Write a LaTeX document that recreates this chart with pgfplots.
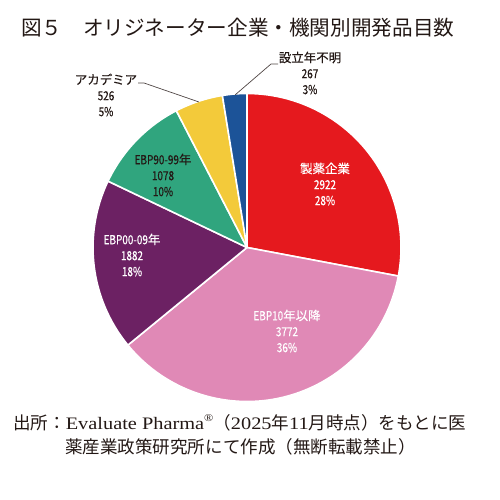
\documentclass[border=0pt]{standalone}
\usepackage{pgfplots}
\pgfplotsset{compat=1.18}
\usepackage{pgfplotstable}
\usepackage{fontspec}
\setmainfont{Liberation Sans}
\newfontfamily\jp{Noto Sans CJK JP}
\newfontfamily\jpl[FakeBold=0.4]{Noto Sans CJK JP}
\newfontfamily\jpn[FakeStretch=0.8,FakeBold=0.4]{Noto Sans CJK JP}
\newfontfamily\ser[FakeStretch=1.16]{Liberation Serif}
\definecolor{pc0}{HTML}{E5191E}
\definecolor{pc1}{HTML}{E089B6}
\definecolor{pc2}{HTML}{6C2163}
\definecolor{pc3}{HTML}{30A57E}
\definecolor{pc4}{HTML}{F3CA3A}
\definecolor{pc5}{HTML}{1C5398}
\definecolor{txt}{HTML}{231815}
\pgfplotstableread{
name value
seiyaku 2922
ebp10 3772
ebp00 1882
ebp90 1078
academia 526
unknown 267
}\piedata
\begin{document}
\begin{tikzpicture}
\begin{axis}[name=ax, at={(0,0)}, anchor=south west, scale only axis,
  width=500bp, height=500bp, xmin=0, xmax=500, ymin=0, ymax=500,
  hide axis, clip=false]
\def\tot{0}
\pgfplotsforeachungrouped \i in {0,...,5}{%
  \pgfplotstablegetelem{\i}{value}\of\piedata
  \pgfmathsetmacro\tot{\tot+\pgfplotsretval}%
}
\def\cum{0}
\pgfplotsforeachungrouped \i in {0,...,5}{%
  \pgfplotstablegetelem{\i}{value}\of\piedata
  \let\v\pgfplotsretval
  \pgfmathsetmacro\a{90-360*(\cum/\tot)}%
  \pgfmathsetmacro\b{90-360*((\cum+\v)/\tot)}%
  \edef\temp{\noexpand\fill[pc\i, draw=white, line width=1.6pt, line join=round] (axis cs:247,252.5) -- ++(\a:154bp) arc[start angle=\a, end angle=\b, radius=154bp] -- cycle;}%
  \temp
  \pgfmathsetmacro\cum{\cum+\v}%
}
\tikzset{lbl/.style={align=center, font=\jpn\fontsize{12.5}{16}\selectfont}}
\node[white, lbl] at (axis cs:325,316) {{\jpl 製薬企業}\\2922\\28\%};
\node[white, lbl] at (axis cs:287,169) {EBP10{\jpl 年以降}\\3772\\36\%};
\node[white, lbl] at (axis cs:132,245) {EBP00-09{\jpl 年}\\1882\\18\%};
\node[txt, lbl] at (axis cs:163,325) {EBP90-99{\jpl 年}\\1078\\10\%};
\node[txt, lbl] at (axis cs:106,405) {{\jpl アカデミア}\\526\\5\%};
\node[txt, lbl] at (axis cs:310,427) {{\jpl 設立年不明}\\267\\3\%};
\draw[txt!80, line width=0.7pt] (axis cs:138,417) -- (axis cs:144,417) -- (axis cs:199,398);
\draw[txt!80, line width=0.7pt] (axis cs:278,436) -- (axis cs:271,436) -- (axis cs:235,405);
\node[txt, anchor=west, inner sep=0pt, font=\jp\fontsize{20.7}{24}\selectfont] at (axis cs:21,472) {図５　オリジネーター企業・機関別開発品目数};
\node[txt, anchor=west, inner sep=0pt, font=\fontsize{17.6}{20}\selectfont] at (axis cs:13,77) {{\jp 出所：}{\ser Evaluate Pharma}\raisebox{0.45em}{\ser\fontsize{10.5}{10}\selectfont ®}{\jp （}{\ser 2025}{\jp 年}{\ser 11}{\jp 月時点）をもとに医}};
\node[txt, anchor=west, inner sep=0pt, font=\fontsize{17.6}{20}\selectfont] at (axis cs:65,53) {{\jp 薬産業政策研究所にて作成（無断転載禁止）}};
\end{axis}
\pgfresetboundingbox
\path[use as bounding box] (0,0) rectangle (500bp,500bp);
\end{tikzpicture}
\end{document}
